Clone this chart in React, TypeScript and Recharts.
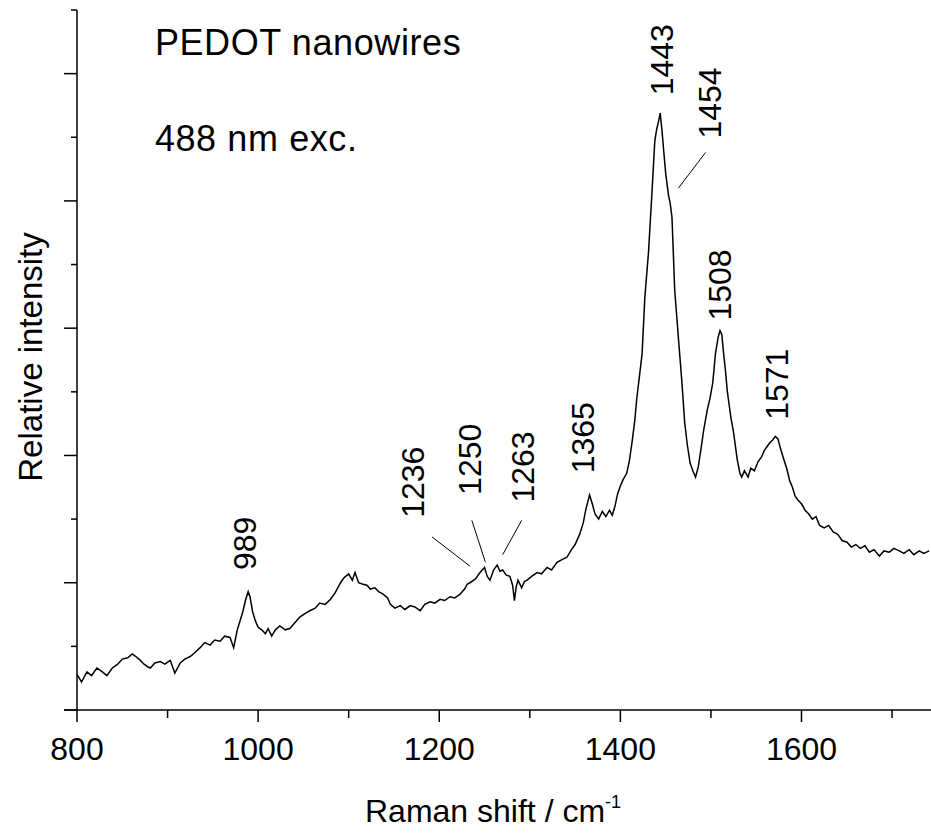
import { LineChart, Line, XAxis, YAxis, ReferenceLine, ReferenceDot } from 'recharts'

// Raman shift (cm-1) and relative intensity
const ramanShift = [
  800, 805, 811, 816, 822, 828, 833, 839, 845, 850,
  856, 861, 865, 870, 874, 878, 881, 886, 892, 897,
  903, 908, 914, 919, 925, 930, 936, 941, 947, 952,
  958, 963, 969, 973, 977, 980, 983, 986, 989, 991,
  994, 997, 1000, 1004, 1008, 1011, 1015, 1019, 1024, 1030,
  1035, 1041, 1046, 1052, 1057, 1063, 1068, 1074, 1080, 1085,
  1091, 1095, 1100, 1104, 1107, 1111, 1115, 1120, 1124, 1129,
  1133, 1138, 1143, 1146, 1151, 1157, 1162, 1168, 1173, 1179,
  1184, 1190, 1195, 1201, 1206, 1212, 1217, 1223, 1228, 1231,
  1234, 1240, 1245, 1250, 1253, 1256, 1260, 1264, 1267, 1270,
  1274, 1278, 1281, 1283, 1285, 1287, 1291, 1294, 1297, 1302,
  1308, 1313, 1319, 1324, 1330, 1335, 1341, 1346, 1350, 1355,
  1359, 1362, 1366, 1369, 1372, 1376, 1380, 1384, 1388, 1391,
  1394, 1397, 1400, 1403, 1407, 1410, 1413, 1416, 1418, 1421,
  1424, 1427, 1431, 1435, 1438, 1440, 1442, 1444, 1446, 1448,
  1450, 1453, 1455, 1457, 1460, 1464, 1468, 1471, 1474, 1477,
  1480, 1483, 1486, 1489, 1492, 1496, 1499, 1502, 1505, 1508,
  1510, 1512, 1514, 1516, 1518, 1522, 1525, 1529, 1532, 1534,
  1537, 1541, 1544, 1548, 1552, 1556, 1559, 1562, 1565, 1568,
  1571, 1574, 1577, 1580, 1584, 1587, 1590, 1593, 1596, 1600,
  1604, 1608, 1612, 1616, 1620, 1625, 1630, 1635, 1640, 1645,
  1650, 1655, 1660, 1665, 1670, 1675, 1680, 1686, 1691, 1697,
  1702, 1708, 1713, 1719, 1724, 1730, 1735, 1741,
]

const intensity = [
  0.28, 0.22, 0.30, 0.27, 0.33, 0.30, 0.27, 0.33, 0.36, 0.40,
  0.41, 0.44, 0.42, 0.39, 0.36, 0.34, 0.33, 0.37, 0.38, 0.36,
  0.39, 0.29, 0.37, 0.40, 0.42, 0.45, 0.49, 0.53, 0.51, 0.55,
  0.54, 0.58, 0.57, 0.49, 0.63, 0.70, 0.77, 0.86, 0.93, 0.89,
  0.77, 0.70, 0.65, 0.63, 0.60, 0.64, 0.58, 0.63, 0.66, 0.63,
  0.64, 0.69, 0.73, 0.76, 0.78, 0.80, 0.84, 0.83, 0.87, 0.92,
  1.00, 1.04, 1.07, 1.02, 1.08, 1.00, 0.99, 0.98, 0.95, 0.96,
  0.93, 0.91, 0.88, 0.83, 0.80, 0.82, 0.79, 0.82, 0.81, 0.78,
  0.83, 0.85, 0.84, 0.87, 0.86, 0.89, 0.88, 0.91, 0.95, 0.99,
  1.00, 1.03, 1.08, 1.12, 1.05, 1.02, 1.10, 1.14, 1.09, 1.10,
  1.06, 1.05, 0.98, 0.86, 0.97, 1.02, 0.96, 1.01, 1.02, 1.05,
  1.08, 1.07, 1.12, 1.10, 1.16, 1.18, 1.20, 1.26, 1.30, 1.38,
  1.47, 1.58, 1.69, 1.62, 1.54, 1.50, 1.56, 1.52, 1.57, 1.53,
  1.60, 1.70, 1.76, 1.81, 1.86, 1.96, 2.11, 2.28, 2.44, 2.62,
  2.80, 3.24, 3.59, 4.08, 4.47, 4.56, 4.62, 4.69, 4.55, 4.38,
  4.22, 4.05, 3.98, 3.87, 3.30, 2.93, 2.57, 2.26, 2.08, 1.94,
  1.88, 1.83, 1.91, 2.05, 2.20, 2.36, 2.45, 2.57, 2.80, 2.93,
  2.98, 2.95, 2.80, 2.67, 2.51, 2.30, 2.18, 1.97, 1.86, 1.83,
  1.88, 1.83, 1.90, 1.88, 1.95, 1.99, 2.04, 2.07, 2.10, 2.12,
  2.15, 2.13, 2.05, 1.98, 1.89, 1.80, 1.75, 1.68, 1.65, 1.62,
  1.57, 1.54, 1.50, 1.52, 1.45, 1.43, 1.45, 1.40, 1.38, 1.33,
  1.32, 1.28, 1.30, 1.27, 1.29, 1.24, 1.26, 1.21, 1.25, 1.24,
  1.27, 1.25, 1.23, 1.26, 1.22, 1.25, 1.23, 1.25,
]

const xTicks = [800, 900, 1000, 1100, 1200, 1300, 1400, 1500, 1600, 1700]
const yTicks = [0, 0.5, 1, 1.5, 2, 2.5, 3, 3.5, 4, 4.5, 5, 5.5]

// peak labels: text, anchor (bottom of rotated text) in data units
const peakText = ['989', '1236', '1250', '1263', '1365', '1443', '1454', '1508', '1571']
const peakAtShift = [986, 1171, 1234, 1293, 1359, 1446, 1499, 1510, 1573]
const peakAtValue = [1.10, 1.51, 1.69, 1.63, 1.86, 4.83, 4.49, 3.06, 2.28]

// leader lines from a label to its band
const leaderFrom = [[1192, 1.36], [1236, 1.49], [1291, 1.49], [1494, 4.38]]
const leaderTo = [[1234, 1.13], [1251, 1.16], [1270, 1.22], [1464, 4.10]]

const data = ramanShift.map((s, i) => ({ shift: s, value: intensity[i] }))

const font = "Arial, 'Liberation Sans', sans-serif"

const XTick = ({ x, y, payload }: any) => {
  const major = payload.value % 200 === 0
  return (
    <g>
      <line x1={x} y1={y} x2={x} y2={y + (major ? 12 : 8)} stroke="#000" strokeWidth={1.5} />
      {major && (
        <text x={x} y={y + 50} textAnchor="middle" fontSize={32} fontFamily={font} fill="#000">
          {payload.value}
        </text>
      )}
    </g>
  )
}

const YTick = ({ x, y, payload }: any) => {
  const major = Number.isInteger(payload.value)
  return <line x1={x - (major ? 13 : 6)} y1={y} x2={x} y2={y} stroke="#000" strokeWidth={1.5} />
}

const XLabel = ({ viewBox }: any) => (
  <text x={viewBox.x + 288} y={822} fontSize={32} fontFamily={font} fill="#000">
    Raman shift / cm
    <tspan dy={-14} fontSize={18}>-1</tspan>
  </text>
)

const YLabel = () => (
  <text x={0} y={0} transform="translate(30,357) rotate(-90)" textAnchor="middle" dominantBaseline="central"
    fontSize={33} fontFamily={font} fill="#000">
    Relative intensity
  </text>
)

const rotatedText = (label: string) => (props: any) => (
  <text x={0} y={0} transform={`translate(${props.cx},${props.cy}) rotate(-90)`} dominantBaseline="central"
    fontSize={32} fontFamily={font} fill="#000">
    {label}
  </text>
)

const plainText = (label: string) => (props: any) => (
  <text x={props.cx} y={props.cy} fontSize={36} fontFamily={font} fill="#000" letterSpacing={0.6}>
    {label}
  </text>
)

export default function App() {
  return (
    <div style={{ position: 'absolute', left: 0, top: 0, width: 931, height: 834, background: '#fff' }}>
      <LineChart width={931} height={834} data={data} margin={{ top: 10, right: 0, bottom: 0, left: 0 }}>
        <XAxis
          dataKey="shift"
          type="number"
          domain={[800, 1743]}
          allowDataOverflow
          ticks={xTicks}
          interval={0}
          tickSize={0}
          tickMargin={0}
          tick={<XTick />}
          height={124}
          axisLine={{ stroke: '#000', strokeWidth: 1.5 }}
          label={<XLabel />}
        />
        <YAxis
          type="number"
          domain={[0, 5.5]}
          ticks={yTicks}
          interval={0}
          tickSize={0}
          tickMargin={0}
          tick={<YTick />}
          width={77}
          axisLine={{ stroke: '#000', strokeWidth: 1.5 }}
          label={<YLabel />}
        />
        <ReferenceLine
          segment={[{ x: 786, y: 0 }, { x: 800, y: 0 }]}
          ifOverflow="visible"
          stroke="#000"
          strokeWidth={1.5}
        />
        {leaderFrom.map((f, i) => (
          <ReferenceLine
            key={'l' + i}
            segment={[{ x: f[0], y: f[1] }, { x: leaderTo[i][0], y: leaderTo[i][1] }]}
            stroke="#000"
            strokeWidth={1}
          />
        ))}
        {peakText.map((t, i) => (
          <ReferenceDot key={t} x={peakAtShift[i]} y={peakAtValue[i]} r={0} shape={rotatedText(t)} />
        ))}
        <ReferenceDot x={886} y={5.15} r={0} shape={plainText('PEDOT nanowires')} />
        <ReferenceDot x={886} y={4.39} r={0} shape={plainText('488 nm exc.')} />
        <Line
          type="linear"
          dataKey="value"
          stroke="#000"
          strokeWidth={1.5}
          dot={false}
          isAnimationActive={false}
        />
      </LineChart>
    </div>
  )
}
